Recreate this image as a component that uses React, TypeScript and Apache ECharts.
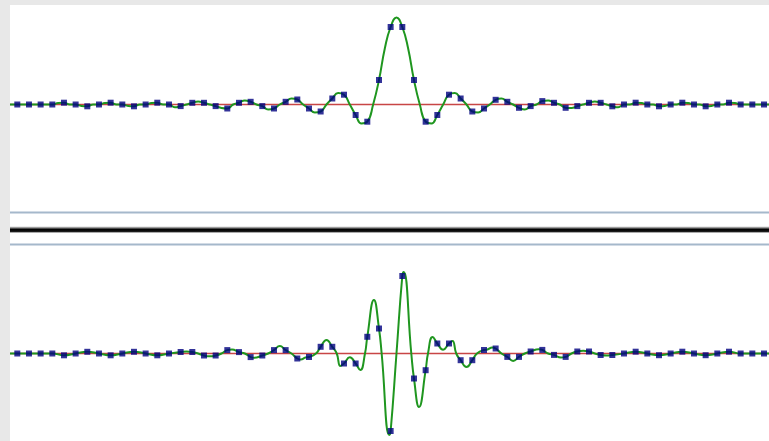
import React, { useEffect, useRef } from "react";
import * as echarts from "echarts";

// Horizontal extent of the plot (sample-index units)
const X_MIN = -0.626;
const X_MAX = 64.43;

// Top panel: sampled values (index 0..64), pixel-ish amplitude units
const topSamples = [
  0, 0, 0, 0, 1.8, 0, -1.8, 0, 1.8, 0, -1.8, 0, 1.8, 0, -1.6, 1.7,
  1.7, -1.6, -4, 1.7, 2.7, -1.6, -4, 2.7, 5, -4, -7, 6, 9.8, -10.5, -17.2, 24.5,
  77.5, 77.5, 24.5, -17.2, -10.5, 9.8, 6, -7, -4, 4.7, 2.7, -3.3, -1.6, 3.4, 1.7, -3.3,
  -1.6, 1.7, 1.7, -1.8, 0, 1.8, 0, -1.8, 0, 1.8, 0, -1.8, 0, 1.8, 0, 0, 0,
];
// Top panel: continuous curve read halfway between samples (index m + 0.5)
const topMidpoints = [
  0, 0, 0, 1.5, 0, -1.5, 0, 1.5, 0, -1.5, 0, 1.5, 0, -2.8, 0, 3,
  0, -3.5, 0, 4, 0, -5, 0, 6, 0, -8, 0, 11.5, 0, -19, 0, 56,
  87, 56, 0, -19, 0, 11.5, 0, -8, 0, 6, 0, -5, 0, 4, 0, -3.5,
  0, 3, 0, -2.8, 0, 1.5, 0, -1.5, 0, 1.5, 0, -1.5, 0, 1.5, 0, 0,
];

// Bottom panel: sampled values (index 0..64)
const bottomSamples = [
  0, 0, 0, 0, -1.8, 0, 1.7, 0, -1.8, 0, 1.7, 0, -1.8, 0, 1.5, 1.5,
  -2, -2, 3.4, 1.4, -3.6, -2, 3.4, 3.4, -5, -3.5, 6.7, 6.7, -10, -10, 16.7, 25,
  -77.5, 77.5, -25, -16.7, 10, 10, -6.7, -6.7, 3.5, 5, -3.4, -3.4, 2, 3.6, -1.4, -3.4,
  2, 2, -1.5, -1.5, 0, 1.8, 0, -1.7, 0, 1.8, 0, -1.7, 0, 1.8, 0, 0, 0,
];
// Bottom panel: extra points of the continuous curve (extrema and zero crossings)
const bottomExtraX = [
  14.5, 15.5, 16.5, 17.5, 18.4, 19.5, 20.3, 21.5, 22.5, 23.5, 24.3, 24.7, 25.6, 26.5,
  27.38, 27.7, 28.5, 29.4, 29.8, 30.57, 31.23, 31.88, 32.5, 33.12, 33.77, 34.43, 35.2,
  35.6, 36.5, 37.3, 37.62, 38.5, 39.4, 40.3, 40.7, 41.5, 42.5, 43.5, 44.7, 45.5, 46.6,
  47.5, 48.5, 49.5, 50.5,
];
const bottomExtraY = [
  2, 0, -2.8, 0, 4, 0, -4.3, 0, 7.4, 0, -6, -4, 0, 13.5,
  0, -12.5, -3.8, -16.5, 0, 53.5, 0, -81.5, 0, 81.5, 0, -53.5, 0,
  16.5, 3.8, 12.5, 0, -13.5, 0, 4, 6, 0, -7.4, 0, 4.3, 0, -4,
  0, 2.8, 0, -2,
];

const GREEN = "#1f961f";
const RED = "#c84646";
const NAVY = "#000080";

function buildTopCurve(): [number, number][] {
  const pts: [number, number][] = [[X_MIN, 0]];
  topSamples.forEach((v, i) => {
    pts.push([i, v]);
    if (i < topMidpoints.length) pts.push([i + 0.5, topMidpoints[i]]);
  });
  pts.push([X_MAX, 0]);
  return pts;
}

function buildBottomCurve(): [number, number][] {
  const pts: [number, number][] = [];
  bottomSamples.forEach((v, i) => pts.push([i, v]));
  bottomExtraX.forEach((x, i) => pts.push([x, bottomExtraY[i]]));
  pts.push([X_MIN, 0]);
  pts.push([X_MAX, 0]);
  pts.sort((a, b) => a[0] - b[0]);
  return pts;
}

export default function App() {
  const ref = useRef<HTMLDivElement>(null);

  useEffect(() => {
    if (!ref.current) return;
    const chart = echarts.init(ref.current, undefined, { renderer: "svg" });

    const topCurve = buildTopCurve();
    const bottomCurve = buildBottomCurve();
    const topPts = topSamples.map((v, i) => [i, v]);
    const bottomPts = bottomSamples.map((v, i) => [i, v]);

    const baseline = (gi: number) => ({
      type: "line",
      xAxisIndex: gi,
      yAxisIndex: gi,
      data: [[X_MIN, 0], [X_MAX, 0]],
      showSymbol: false,
      silent: true,
      z: 1,
      lineStyle: { color: RED, width: 1.5 },
    });
    const curve = (gi: number, data: [number, number][]) => ({
      type: "line",
      xAxisIndex: gi,
      yAxisIndex: gi,
      data,
      smooth: 0.5,
      showSymbol: false,
      silent: true,
      z: 2,
      lineStyle: { color: GREEN, width: 2 },
    });
    const samples = (gi: number, data: number[][]) => ({
      type: "scatter",
      xAxisIndex: gi,
      yAxisIndex: gi,
      data,
      symbol: "rect",
      symbolSize: 6,
      z: 3,
      itemStyle: { color: NAVY },
    });

    chart.setOption({
      animation: false,
      backgroundColor: "#e8e8e8",
      grid: [
        { left: 10, right: 0, top: 5, height: 199 },
        { left: 10, right: 0, top: 254, height: 187 },
      ],
      xAxis: [0, 1].map((gi) => ({
        type: "value",
        gridIndex: gi,
        min: X_MIN,
        max: X_MAX,
        show: false,
      })),
      yAxis: [
        { type: "value", gridIndex: 0, min: -99.5, max: 99.5, show: false },
        { type: "value", gridIndex: 1, min: -87.5, max: 99.5, show: false },
      ],
      graphic: [
        {
          type: "rect",
          z: -10,
          shape: { x: 10, y: 5, width: 759, height: 436 },
          style: { fill: "#ffffff" },
          silent: true,
        },
        {
          type: "rect",
          z: -5,
          shape: { x: 10, y: 211.5, width: 759, height: 2 },
          style: { fill: "#a5b8cb" },
          silent: true,
        },
        {
          type: "rect",
          z: -5,
          shape: { x: 10, y: 226.5, width: 759, height: 6 },
          style: {
            fill: new echarts.graphic.LinearGradient(0, 0, 0, 1, [
              { offset: 0, color: "#d8d8d8" },
              { offset: 0.25, color: "#808080" },
              { offset: 0.45, color: "#000000" },
              { offset: 0.8, color: "#111111" },
              { offset: 1, color: "#555555" },
            ]),
          },
          silent: true,
        },
        {
          type: "rect",
          z: -5,
          shape: { x: 10, y: 243.5, width: 759, height: 2 },
          style: { fill: "#a5b8cb" },
          silent: true,
        },
      ],
      series: [
        baseline(0),
        curve(0, topCurve),
        samples(0, topPts),
        baseline(1),
        curve(1, bottomCurve),
        samples(1, bottomPts),
      ],
    });

    return () => chart.dispose();
  }, []);

  return (
    <div
      ref={ref}
      style={{ position: "fixed", left: 0, top: 0, width: 769, height: 441 }}
    />
  );
}
